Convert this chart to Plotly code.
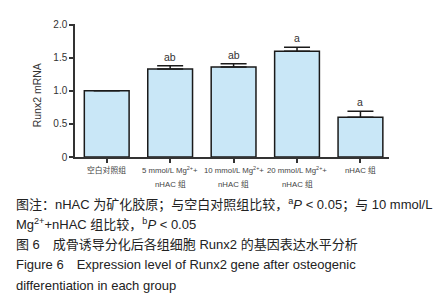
import plotly.graph_objects as go

categories = ["空白对照组", "5 mmol/L Mg²⁺+ nHAC 组", "10 mmol/L Mg²⁺+ nHAC 组", "20 mmol/L Mg²⁺+ nHAC 组", "nHAC 组"]
label_line1 = ["空白对照组", "5 mmol/L Mg<sup>2+</sup>+", "10 mmol/L Mg<sup>2+</sup>+", "20 mmol/L Mg<sup>2+</sup>+", "nHAC 组"]
label_line2 = ["", "nHAC 组", "nHAC 组", "nHAC 组", ""]
values = [1.0, 1.33, 1.36, 1.60, 0.60]
errors = [0.0, 0.05, 0.05, 0.06, 0.09]
sig = ["", "ab", "ab", "a", "a"]
y_ticks = [0, 0.5, 1.0, 1.5, 2.0]
y_ticktext = ["0", "0.5", "1.0", "1.5", "2.0"]
y_title = "Runx2 mRNA"

captions = [
    "图注：nHAC 为矿化胶原；与空白对照组比较，<sup>a</sup><i>P</i> &lt; 0.05；与 10 mmol/L",
    "Mg<sup>2+</sup>+nHAC 组比较，<sup>b</sup><i>P</i> &lt; 0.05",
    "图 6　成骨诱导分化后各组细胞 Runx2 的基因表达水平分析",
    "Figure 6　Expression level of Runx2 gene after osteogenic",
    "differentiation in each group",
]

FONT = "Liberation Sans, Arial, Noto Sans CJK SC"
xs = list(range(len(categories)))

fig = go.Figure()
fig.add_trace(go.Bar(
    x=xs, y=values, width=0.706,
    marker=dict(color="#c9e7f7", line=dict(color="#1a1a1a", width=1.5)),
    error_y=dict(type="data", array=errors, arrayminus=[0]*len(errors), symmetric=False,
                 color="#1a1a1a", thickness=1.5, width=13, visible=True),
    showlegend=False,
))

# plot area pixel geometry
L, R, T, B = 67, 381, 11, 149
W, H = 442, 300

def px_to_paper_x(px):
    return (px - L) / (R - L)

def px_to_paper_y(py):
    return (B - py) / (B - T)

annotations = []
for i, s in enumerate(sig):
    if s:
        annotations.append(dict(x=xs[i], y=values[i] + errors[i], xref="x", yref="y",
                                text=s, showarrow=False, yanchor="bottom", yshift=1,
                                font=dict(family=FONT, size=10.5, color="#333")))
for i in xs:
    annotations.append(dict(x=i, y=px_to_paper_y(162), xref="x", yref="paper",
                            text=label_line1[i], showarrow=False, yanchor="middle",
                            font=dict(family=FONT, size=7.8, color="#444")))
    if label_line2[i]:
        annotations.append(dict(x=i, y=px_to_paper_y(177), xref="x", yref="paper",
                                text=label_line2[i], showarrow=False, yanchor="middle",
                                font=dict(family=FONT, size=7.8, color="#444")))

annotations.append(dict(x=px_to_paper_x(29), y=px_to_paper_y(85), xref="paper", yref="paper",
                        text=y_title, textangle=-90, showarrow=False,
                        xanchor="center", yanchor="middle",
                        font=dict(family=FONT, size=10.5, color="#333")))

cap_y = [198, 219, 240, 261, 282]
for t, yy in zip(captions, cap_y):
    annotations.append(dict(x=px_to_paper_x(6), y=px_to_paper_y(yy), xref="paper", yref="paper",
                            text=t, showarrow=False, xanchor="left", yanchor="middle",
                            font=dict(family=FONT, size=13, color="#222")))

fig.update_layout(
    width=W, height=H,
    margin=dict(l=L, r=W - R, t=T, b=H - B, pad=0),
    paper_bgcolor="white", plot_bgcolor="white",
    font=dict(family=FONT, color="#333"),
    xaxis=dict(range=[-0.5, 4.45], tickvals=xs, showticklabels=False,
               ticks="outside", ticklen=4, tickwidth=1.5, tickcolor="#333",
               showline=True, linecolor="#333", linewidth=1.5, showgrid=False, zeroline=False),
    yaxis=dict(range=[0, 2.01], tickvals=y_ticks, ticktext=y_ticktext,
               ticks="outside", ticklen=4, tickwidth=1.5, tickcolor="#333",
               tickfont=dict(family=FONT, size=10, color="#333"),
               showline=True, linecolor="#333", linewidth=1.5, showgrid=False, zeroline=False),
    annotations=annotations,
)

fig.write_html("out.html")
